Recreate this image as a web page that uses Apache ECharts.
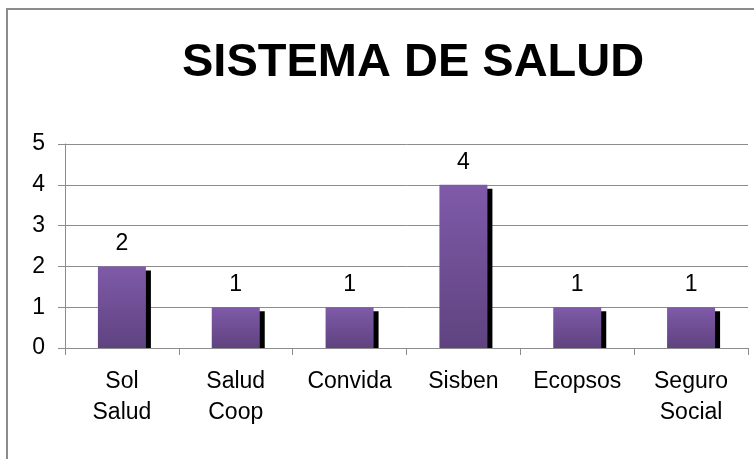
<!DOCTYPE html>
<html>
<head>
<meta charset="utf-8">
<title>Sistema de Salud</title>
<script src="https://cdn.jsdelivr.net/npm/echarts@6/dist/echarts.min.js"></script>
<style>
  html, body { margin: 0; padding: 0; background: #fff; }
  #chart { width: 754px; height: 459px; }
</style>
</head>
<body>
<div id="chart"></div>
<script>
// datos del grafico
var categorias = ['Sol\nSalud', 'Salud\nCoop', 'Convida', 'Sisben', 'Ecopsos', 'Seguro\nSocial'];
var valores = [2, 1, 1, 4, 1, 1];
var ticksY = [0, 1, 2, 3, 4, 5];

var fuente = "'Liberation Sans', Arial, sans-serif";
var anchoBarra = 48;

var chart = echarts.init(document.getElementById('chart'), null, { renderer: 'canvas' });

// sombra negra a la derecha de cada barra
function dibujarSombra(params, api) {
  var idx = api.value(0);
  var arriba = api.coord([idx, api.value(1)]);
  var base = api.coord([idx, 0]);
  return {
    type: 'rect',
    shape: {
      x: arriba[0] - anchoBarra / 2 + 5,
      y: arriba[1] + 4,
      width: anchoBarra,
      height: base[1] - arriba[1] - 4
    },
    style: { fill: '#000' }
  };
}

var option = {
  animation: false,
  backgroundColor: '#fff',
  title: {
    text: 'SISTEMA DE SALUD',
    left: 177,
    top: 35,
    textStyle: {
      fontFamily: fuente,
      fontSize: 47,
      fontWeight: 'bold',
      color: '#000'
    }
  },
  graphic: [{
    type: 'rect',
    shape: { x: 7, y: 9, width: 800, height: 500 },
    style: { fill: 'none', stroke: '#8c8c8c', lineWidth: 2 },
    z: -1
  }],
  grid: {
    left: 65,
    right: 6,
    top: 144,
    bottom: 111
  },
  xAxis: {
    type: 'category',
    data: categorias,
    axisLine: { lineStyle: { color: '#8c8c8c', width: 1 } },
    axisTick: { show: true, length: 7, lineStyle: { color: '#8c8c8c' } },
    axisLabel: {
      fontFamily: fuente,
      fontSize: 23,
      lineHeight: 31,
      color: '#000',
      margin: 18,
      interval: 0
    }
  },
  yAxis: {
    type: 'value',
    min: ticksY[0],
    max: ticksY[ticksY.length - 1],
    interval: 1,
    axisLine: { show: true, lineStyle: { color: '#8c8c8c', width: 1 } },
    axisTick: { show: true, length: 7, lineStyle: { color: '#8c8c8c' } },
    axisLabel: {
      fontFamily: fuente,
      fontSize: 23,
      color: '#000',
      margin: 20
    },
    splitLine: { lineStyle: { color: '#8c8c8c', width: 1 } }
  },
  series: [{
    name: 'sombra',
    type: 'custom',
    renderItem: dibujarSombra,
    data: valores.map(function (v, i) { return [i, v]; }),
    z: 1,
    silent: true
  }, {
    name: 'Sistema de salud',
    type: 'bar',
    data: valores,
    barWidth: anchoBarra,
    z: 2,
    itemStyle: {
      color: new echarts.graphic.LinearGradient(0, 0, 0, 1, [
        { offset: 0, color: '#7f5aa9' },
        { offset: 1, color: '#5f437f' }
      ])
    },
    label: {
      show: true,
      position: 'top',
      distance: 11,
      fontFamily: fuente,
      fontSize: 23,
      color: '#000'
    }
  }]
};

chart.setOption(option);
</script>
</body>
</html>
